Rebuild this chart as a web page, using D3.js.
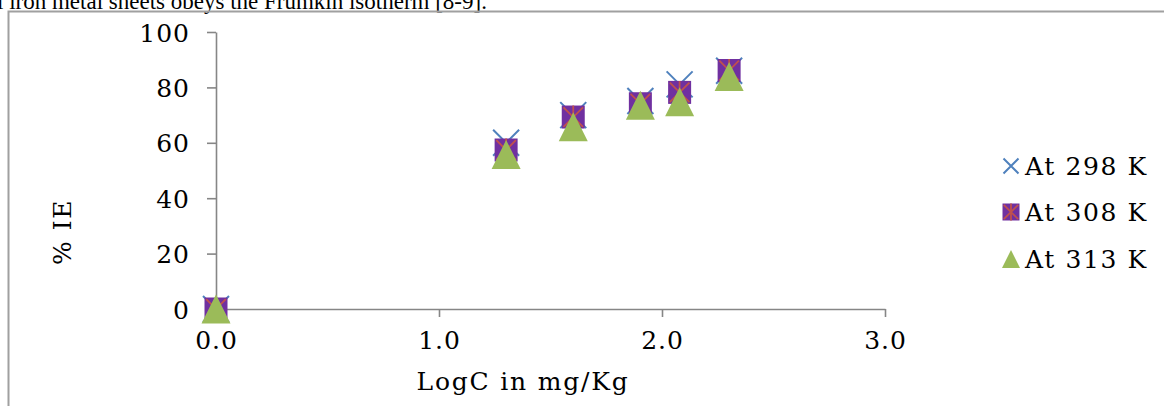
<!DOCTYPE html>
<html>
<head>
<meta charset="utf-8">
<script src="https://cdn.jsdelivr.net/npm/d3@7"></script>
<style>
  html, body { margin: 0; padding: 0; background: #fff; overflow: hidden; }
  svg { display: block; }
</style>
</head>
<body>
<svg id="chart" width="1164" height="406"></svg>
<script>
// ---- data ----
const logC   = [0, 1.301, 1.602, 1.903, 2.079, 2.301];
const ie298  = [0, 60.0, 70.0, 75.1, 81.1, 86.0];
const ie308  = [0, 57.4, 69.3, 74.1, 78.2, 86.1];
const ie313  = [0, 55.8, 65.8, 73.6, 74.8, 83.9];
const seriesNames = ["At 298 K", "At 308 K", "At 313 K"];
const xTicks = [0, 1, 2, 3];
const yTicks = [0, 20, 40, 60, 80, 100];
const xTitle = "LogC in mg/Kg";
const yTitle = "% IE";
const captionText = "l iron metal sheets obeys the Frumkin isotherm [8-9].";

const svg = d3.select("#chart");
const font = "'DejaVu Serif', serif";
const axisColor = "#868686";

// caption cut off at top of page (as in the reference)
svg.append("text")
  .attr("x", -3).attr("y", 9)
  .attr("font-family", "'Liberation Serif', 'Times New Roman', serif")
  .attr("font-size", 23)
  .attr("fill", "#000")
  .text(captionText);

// chart frame (extends beyond the viewport)
svg.append("path")
  .attr("d", "M8.5,420 V11.5 H1200")
  .attr("fill", "none")
  .attr("stroke", "#a0a0a0")
  .attr("stroke-width", 2);

const x = d3.scaleLinear().domain([0, 3]).range([216, 885]);
const y = d3.scaleLinear().domain([0, 100]).range([309, 32]);

// axes
const xAxis = svg.append("g").attr("transform", `translate(0,${y(0)})`)
  .call(d3.axisBottom(x).tickValues(xTicks).tickFormat(d3.format(".1f")).tickSize(8).tickSizeOuter(0).tickPadding(14));
const yAxis = svg.append("g").attr("transform", `translate(${x(0)},0)`)
  .call(d3.axisLeft(y).tickValues(yTicks).tickSize(9).tickSizeOuter(0).tickPadding(17));

[xAxis, yAxis].forEach(g => {
  g.select(".domain").attr("stroke", axisColor).attr("stroke-width", 1.6);
  g.selectAll(".tick line").attr("stroke", axisColor).attr("stroke-width", 1.6);
  g.selectAll(".tick text")
    .attr("font-family", font).attr("font-size", 25).attr("fill", "#000")
    .style("letter-spacing", "1px");
});
xAxis.selectAll(".tick text").attr("dy", "0.71em");
yAxis.selectAll(".tick text").attr("dy", "0.36em");

// axis titles
svg.append("text")
  .attr("x", 523).attr("y", 390)
  .attr("text-anchor", "middle")
  .attr("font-family", font).attr("font-size", 25).attr("fill", "#000")
  .style("letter-spacing", "1.8px")
  .text(xTitle);
svg.append("text")
  .attr("transform", "translate(71,232) rotate(-90)")
  .attr("text-anchor", "middle")
  .attr("font-family", font).attr("font-size", 25).attr("fill", "#000")
  .style("letter-spacing", "1.5px")
  .text(yTitle);

// marker drawers
function drawCross(g, cx, cy, s) {
  const h = s / 2;
  g.append("path")
    .attr("d", `M${cx - h},${cy - h} L${cx + h},${cy + h} M${cx - h},${cy + h} L${cx + h},${cy - h}`)
    .attr("stroke", "#4F81BD").attr("stroke-width", 2).attr("fill", "none");
}
function drawStarSquare(g, cx, cy, s) {
  const h = s / 2;
  g.append("rect")
    .attr("x", cx - h).attr("y", cy - h).attr("width", s).attr("height", s)
    .attr("fill", "#7030A0");
  const k = h * 0.85;
  g.append("path")
    .attr("d", `M${cx - k},${cy - k} L${cx + k},${cy + k} M${cx - k},${cy + k} L${cx + k},${cy - k} M${cx},${cy - h} L${cx},${cy + h}`)
    .attr("stroke", "#C0504D").attr("stroke-width", 1.8).attr("fill", "none");
}
function drawTriangle(g, cx, cy, w, hgt) {
  g.append("path")
    .attr("d", `M${cx},${cy - hgt / 2} L${cx + w / 2},${cy + hgt / 2} L${cx - w / 2},${cy + hgt / 2} Z`)
    .attr("fill", "#9BBB59");
}

const marks = svg.append("g");
const g298 = marks.append("g");
logC.forEach((v, i) => drawCross(g298, x(v), y(ie298[i]), 26));
const g308 = marks.append("g");
logC.forEach((v, i) => drawStarSquare(g308, x(v), y(ie308[i]), 23));
const g313 = marks.append("g");
logC.forEach((v, i) => drawTriangle(g313, x(v), y(ie313[i]), 29, 29));

// legend
const legendRows = [166, 212, 259];
const leg = svg.append("g");
drawCross(leg, 1011, legendRows[0], 15);
drawStarSquare(leg, 1011, legendRows[1], 17);
drawTriangle(leg, 1011, legendRows[2], 18, 18);
seriesNames.forEach((name, i) => {
  leg.append("text")
    .attr("x", 1025).attr("y", legendRows[i] + 9)
    .attr("font-family", font).attr("font-size", 25).attr("fill", "#000")
    .style("letter-spacing", "1.6px")
    .text(name);
});
</script>
</body>
</html>
